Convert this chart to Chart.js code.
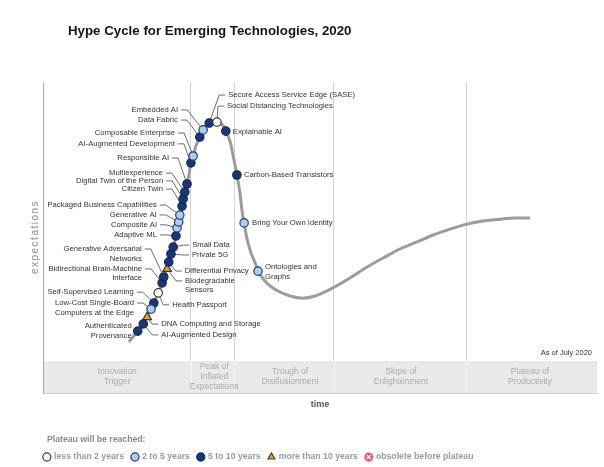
<!DOCTYPE html>
<html><head><meta charset="utf-8">
<script src="https://cdn.jsdelivr.net/npm/chart.js@4.4.1/dist/chart.umd.min.js"></script>
<style>html,body{margin:0;padding:0;background:#fff}canvas{display:block}</style>
</head><body>
<canvas id="c" width="604" height="467"></canvas>
<script>
// ---------- DATA (x = time 0-100, y = expectations 0-100) ----------
const curveX = [15.5,17.1,18.1,18.8,19.5,20.0,20.8,21.5,21.8,22.4,22.7,23.1,23.5,24.0,24.2,24.5,24.7,25.1,25.3,25.6,26.0,26.4,26.7,27.1,27.6,28.3,28.9,29.4,30.0,30.7,31.4,32.1,32.7,33.0,33.8,34.3,35.0,35.6,35.9,36.3,36.8,37.5,38.3,38.8,39.5,40.6,42.4,44.6,46.8,49.1,52.3,55.4,58.5,61.7,64.4,67.5,70.4,73.5,76.5,79.4,82.5,85.2,87.9];
const curveY = [16.4,19.9,22.2,24.4,27.0,28.9,32.2,35.4,37.3,39.9,42.1,44.7,46.9,50.5,53.1,55.0,57.2,60.1,62.4,64.6,67.2,70.7,74.0,76.2,79.4,82.3,84.6,85.9,86.8,87.6,87.5,86.6,85.5,84.2,80.7,76.5,70.1,63.7,58.8,54.7,49.8,45.3,41.8,39.2,37.3,35.0,32.8,31.2,30.5,31.2,33.8,37.0,40.5,43.7,46.3,48.6,50.8,52.7,54.3,55.3,55.9,56.3,56.3];

const techNames = ['Authenticated Provenance','AI-Augmented Design','DNA Computing and Storage','Low-Cost Single-Board Computers at the Edge','Self-Supervised Learning','Health Passport','Bidirectional Brain-Machine Interface','Generative Adversarial Networks','Biodegradable Sensors','Differential Privacy','Private 5G','Small Data','Adaptive ML','Composite AI','Generative AI','Packaged Business Capabilities','Citizen Twin','Digital Twin of the Person','Multiexperience','Responsible AI','AI-Augmented Development','Composable Enterprise','Data Fabric','Embedded AI','Secure Access Service Edge (SASE)','Social Distancing Technologies','Explainable AI','Carbon-Based Transistors','Bring Your Own Identity','Ontologies and Graphs'];
const techX = [17.1,18.1,18.8,19.5,20.0,20.8,21.5,21.8,22.4,22.7,23.1,23.5,24.0,24.2,24.5,24.7,25.1,25.3,25.6,26.0,26.7,27.1,28.3,28.9,30.0,31.4,33.0,35.0,36.3,38.8];
const techY = [19.9,22.2,24.4,27.0,28.9,32.2,35.4,37.3,39.9,42.1,44.7,46.9,50.5,53.1,55.0,57.2,60.1,62.4,64.6,67.2,74.0,76.2,82.3,84.6,86.8,87.1,84.2,70.1,54.7,39.2];
// 0: less than 2 years, 1: 2 to 5 years, 2: 5 to 10 years, 3: more than 10 years
const techStatus = [2,2,3,1,2,0,2,2,3,2,2,2,2,1,1,1,2,2,2,2,2,1,2,1,2,0,2,2,1,1];
const statusNames = ['less than 2 years','2 to 5 years','5 to 10 years','more than 10 years','obsolete before plateau'];

const phaseNames = [['Innovation','Trigger'],['Peak of','Inflated','Expectations'],['Trough of','Disillusionment'],['Slope of','Enlightenment'],['Plateau of','Productivity']];
const phaseBounds = [26.7, 34.5, 52.5, 76.4];

// ---------- LAYOUT / STYLE ----------
const FONT = '"Liberation Sans", Arial, Helvetica, sans-serif';
const phaseLabelX = [13.4, 30.9, 44.6, 64.6, 87.9];
const BAND_TOP = 10.3;
// label offsets (px) from the dot: side, dx, dy, optional line split
const labelLayout = [
  {s:'L',dx:-6,dy:-5,lines:['Authenticated','Provenance']},
  {s:'R',dx:18,dy:11},
  {s:'R',dx:14,dy:7},
  {s:'L',dx:-17,dy:-6,lines:['Low-Cost Single-Board','Computers at the Edge']},
  {s:'L',dx:-20,dy:-11},
  {s:'R',dx:14,dy:12},
  {s:'L',dx:-20,dy:-14,lines:['Bidirectional Brain-Machine','Interface']},
  {s:'L',dx:-22,dy:-28,lines:['Generative Adversarial','Networks']},
  {s:'R',dx:18,dy:12,lines:['Biodegradable','Sensors']},
  {s:'R',dx:16,dy:9},
  {s:'R',dx:21,dy:1},
  {s:'R',dx:19,dy:-2},
  {s:'L',dx:-19,dy:-1},
  {s:'L',dx:-20,dy:-3},
  {s:'L',dx:-22,dy:-7},
  {s:'L',dx:-23,dy:-10},
  {s:'L',dx:-19,dy:-17},
  {s:'L',dx:-20,dy:-18},
  {s:'L',dx:-22,dy:-19},
  {s:'L',dx:-18,dy:-26},
  {s:'L',dx:-16,dy:-19},
  {s:'L',dx:-18,dy:-23},
  {s:'L',dx:-22,dy:-17},
  {s:'L',dx:-25,dy:-20},
  {s:'R',dx:19,dy:-28},
  {s:'R',dx:10,dy:-16},
  {s:'R',dx:7,dy:1},
  {s:'R',dx:7,dy:0},
  {s:'R',dx:8,dy:0},
  {s:'R',dx:7,dy:-4,lines:['Ontologies and','Graphs']}
];

function obsoleteIcon(){
  const c=document.createElement('canvas');c.width=10;c.height=10;
  const g=c.getContext('2d');
  g.fillStyle='#e5536a';g.beginPath();g.arc(5,5,4.5,0,Math.PI*2);g.fill();
  g.strokeStyle='#fff';g.lineWidth=1.3;g.beginPath();g.moveTo(3,3);g.lineTo(7,7);g.moveTo(7,3);g.lineTo(3,7);g.stroke();
  return c;
}
const statusStyles = [
  {bg:'#ffffff',bd:'#3a3a3a',ps:'circle',r:4.2},
  {bg:'#b2cbea',bd:'#1e3a78',ps:'circle',r:4.2},
  {bg:'#1b3675',bd:'#10275c',ps:'circle',r:4.2},
  {bg:'#e5a23b',bd:'#4a3a20',ps:'triangle',r:5},
  {bg:'#e5536a',bd:'#e5536a',ps:obsoleteIcon(),r:4.2}
];

Chart.defaults.font.family = FONT;

const datasets = [{
  type:'line', label:'hype', order:10,
  data: curveX.map((v,i)=>({x:v,y:curveY[i]})),
  borderColor:'#9c9c9c', borderWidth:3, pointRadius:0, cubicInterpolationMode:'monotone', fill:false
}].concat(statusNames.map((name,s)=>({
  type:'scatter', label:name, order:0,
  data: techNames.map((n,i)=>({x:techX[i],y:techY[i],name:n,st:techStatus[i]})).filter(p=>p.st===s),
  backgroundColor:statusStyles[s].bg, borderColor:statusStyles[s].bd, borderWidth:1.2,
  pointStyle:statusStyles[s].ps, pointRadius:statusStyles[s].r, pointHoverRadius:statusStyles[s].r
})));

const hypeDecor = {
  id:'hypeDecor',
  beforeDatasetsDraw(chart){
    const {ctx, chartArea:a, scales:{x,y}} = chart;
    ctx.save();
    const bt = y.getPixelForValue(BAND_TOP);
    ctx.fillStyle='#e9e9e9';
    ctx.fillRect(a.left+1, bt, a.right-a.left-1, a.bottom-bt);
    ctx.strokeStyle='#f6f6f6'; ctx.lineWidth=1;
    phaseBounds.forEach(v=>{const px=Math.round(x.getPixelForValue(v))+0.5;ctx.beginPath();ctx.moveTo(px,bt);ctx.lineTo(px,a.bottom);ctx.stroke();});
    ctx.fillStyle='#acacac'; ctx.font='8.5px '+FONT; ctx.textAlign='center'; ctx.textBaseline='middle';
    const mid=(bt+a.bottom)/2;
    phaseNames.forEach((lines,i)=>{
      const cx=x.getPixelForValue(phaseLabelX[i]);
      lines.forEach((t,k)=>ctx.fillText(t,cx,mid+(k-(lines.length-1)/2)*10));
    });
    // leader lines
    ctx.strokeStyle='#5c5c5c'; ctx.lineWidth=0.9;
    techNames.forEach((n,i)=>{
      const L=labelLayout[i];
      if (Math.hypot(L.dx,L.dy)<13) return;
      const px=x.getPixelForValue(techX[i]), py=y.getPixelForValue(techY[i]);
      const ax=px+L.dx, ay=py+L.dy, sg=L.s==='L'?1:-1;
      ctx.beginPath(); ctx.moveTo(ax+3*sg,ay); ctx.lineTo(ax+9*sg,ay); ctx.lineTo(px,py); ctx.stroke();
    });
    ctx.restore();
  },
  afterDatasetsDraw(chart){
    const {ctx, scales:{x,y}} = chart;
    ctx.save();
    ctx.fillStyle='#333'; ctx.font='7.7px '+FONT; ctx.textBaseline='middle';
    techNames.forEach((n,i)=>{
      const L=labelLayout[i];
      const px=x.getPixelForValue(techX[i]), py=y.getPixelForValue(techY[i]);
      const lines=L.lines||[n];
      ctx.textAlign = L.s==='L'?'right':'left';
      lines.forEach((t,k)=>ctx.fillText(t,px+L.dx,py+L.dy+k*9.4));
    });
    ctx.restore();
  },
  afterDraw(chart){
    const ctx=chart.ctx;
    ctx.save();
    ctx.textBaseline='middle';
    ctx.fillStyle='#151515'; ctx.font='bold 13.3px '+FONT; ctx.textAlign='left';
    ctx.fillText('Hype Cycle for Emerging Technologies, 2020',68,31);
    ctx.fillStyle='#333'; ctx.font='7.5px '+FONT; ctx.textAlign='right';
    ctx.fillText('As of July 2020',592,353);
    ctx.fillStyle='#8a8a8a'; ctx.font='bold 8.7px '+FONT; ctx.textAlign='left';
    ctx.fillText('Plateau will be reached:',47,440);
    ctx.translate(35,237); ctx.rotate(-Math.PI/2);
    ctx.fillStyle='#8c8c8c'; ctx.font='10px '+FONT; ctx.textAlign='center';
    try{ctx.letterSpacing='1.5px';}catch(e){}
    ctx.fillText('expectations',0,0);
    ctx.restore();
  }
};

new Chart(document.getElementById('c'), {
  data:{datasets},
  options:{
    responsive:false, animation:false, events:[],
    layout:{padding:{top:82,left:36,right:7,bottom:0}},
    scales:{
      x:{type:'linear',min:0,max:100,
         afterBuildTicks:s=>{s.ticks=phaseBounds.map(v=>({value:v}));},
         ticks:{display:false}, grid:{color:'#d4d4d4',drawTicks:false,lineWidth:1},
         border:{display:true,color:'#cfcfcf'},
         title:{display:true,text:'time',color:'#555',font:{size:9,weight:'bold'},padding:{top:6.6,bottom:34.25}}},
      y:{type:'linear',min:0,max:100, afterFit:s=>{s.width=7;},
         ticks:{display:false}, grid:{display:false,drawTicks:false},
         border:{display:true,color:'#a8a8a8'}}
    },
    plugins:{
      tooltip:{enabled:false},
      title:{display:false},
      legend:{display:true,position:'bottom',align:'start',fullSize:true,maxHeight:22.35,
        labels:{usePointStyle:true,boxWidth:5.7,boxHeight:5.7,padding:8,color:'#9a9a9a',
          font:{size:8.7,weight:'bold'},filter:it=>it.datasetIndex>0}}
    }
  },
  plugins:[hypeDecor]
});
</script>
</body></html>
